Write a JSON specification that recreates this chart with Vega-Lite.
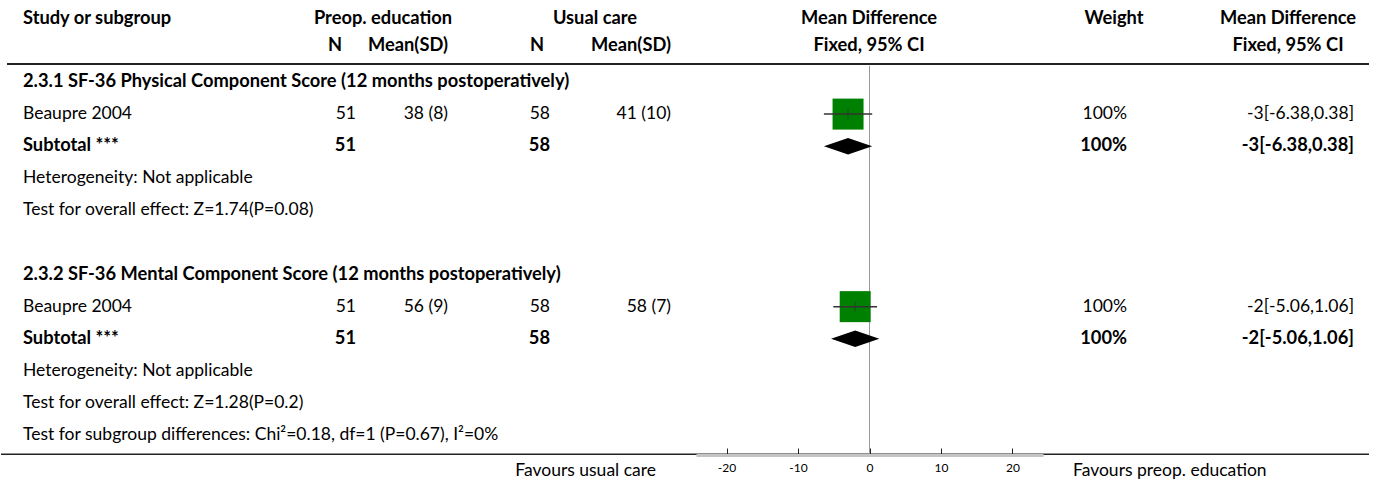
{
  "$schema": "https://vega.github.io/schema/vega-lite/v6.json",
  "width": 1375,
  "height": 455,
  "padding": 0,
  "background": "white",
  "config": {
    "view": {"stroke": null},
    "font": "Lato",
    "text": {"fontSize": 17.5, "baseline": "middle", "color": "#000", "font": "Lato"}
  },
  "datasets": {
    "cells": [
      {"k": -1, "c": 2, "t": "Study or subgroup", "r": "head"},
      {"k": -1, "c": 5, "t": "Preop. education", "r": "head"},
      {"k": -1, "c": 9, "t": "Usual care", "r": "head"},
      {"k": -1, "c": 12, "t": "Mean Difference", "r": "head"},
      {"k": -1, "c": 14, "t": "Weight", "r": "head"},
      {"k": -1, "c": 16, "t": "Mean Difference", "r": "head"},
      {"k": 0, "c": 3, "t": "N", "r": "head"},
      {"k": 0, "c": 6, "t": "Mean(SD)", "r": "head"},
      {"k": 0, "c": 7, "t": "N", "r": "head"},
      {"k": 0, "c": 11, "t": "Mean(SD)", "r": "head"},
      {"k": 0, "c": 12, "t": "Fixed, 95% CI", "r": "head"},
      {"k": 0, "c": 16, "t": "Fixed, 95% CI", "r": "head"},
      {"k": 1, "c": 2, "t": "2.3.1 SF-36 Physical Component Score (12 months postoperatively)", "r": "title"},
      {"k": 2, "c": 2, "t": "Beaupre 2004", "r": "study"},
      {"k": 2, "c": 4, "t": "51", "r": "study"},
      {"k": 2, "c": 6, "t": "38 (8)", "r": "study"},
      {"k": 2, "c": 8, "t": "58", "r": "study"},
      {"k": 2, "c": 11, "t": "41 (10)", "r": "study"},
      {"k": 2, "c": 15, "t": "100%", "r": "study"},
      {"k": 2, "c": 17, "t": "-3[-6.38,0.38]", "r": "study"},
      {"k": 3, "c": 2, "t": "Subtotal ***", "r": "sub"},
      {"k": 3, "c": 4, "t": "51", "r": "sub"},
      {"k": 3, "c": 8, "t": "58", "r": "sub"},
      {"k": 3, "c": 15, "t": "100%", "r": "sub"},
      {"k": 3, "c": 17, "t": "-3[-6.38,0.38]", "r": "sub"},
      {"k": 4, "c": 2, "t": "Heterogeneity: Not applicable", "r": "note"},
      {"k": 5, "c": 2, "t": "Test for overall effect: Z=1.74(P=0.08)", "r": "note"},
      {"k": 7, "c": 2, "t": "2.3.2 SF-36 Mental Component Score (12 months postoperatively)", "r": "title"},
      {"k": 8, "c": 2, "t": "Beaupre 2004", "r": "study"},
      {"k": 8, "c": 4, "t": "51", "r": "study"},
      {"k": 8, "c": 6, "t": "56 (9)", "r": "study"},
      {"k": 8, "c": 8, "t": "58", "r": "study"},
      {"k": 8, "c": 11, "t": "58 (7)", "r": "study"},
      {"k": 8, "c": 15, "t": "100%", "r": "study"},
      {"k": 8, "c": 17, "t": "-2[-5.06,1.06]", "r": "study"},
      {"k": 9, "c": 2, "t": "Subtotal ***", "r": "sub"},
      {"k": 9, "c": 4, "t": "51", "r": "sub"},
      {"k": 9, "c": 8, "t": "58", "r": "sub"},
      {"k": 9, "c": 15, "t": "100%", "r": "sub"},
      {"k": 9, "c": 17, "t": "-2[-5.06,1.06]", "r": "sub"},
      {"k": 10, "c": 2, "t": "Heterogeneity: Not applicable", "r": "note"},
      {"k": 11, "c": 2, "t": "Test for overall effect: Z=1.28(P=0.2)", "r": "note"},
      {"k": 12, "c": 2, "t": "Test for subgroup differences: Chi²=0.18, df=1 (P=0.67), I²=0%", "r": "note"},
      {"k": 13.12, "c": 10, "t": "Favours usual care", "r": "fav"},
      {"k": 13.12, "c": 13, "t": "Favours preop. education", "r": "fav"}
    ],
    "studies": [
      {"k": 2, "md": -3, "lo": -6.38, "hi": 0.38},
      {"k": 8, "md": -2, "lo": -5.06, "hi": 1.06}
    ],
    "totals": [
      {"k": 3, "md": -3, "lo": -6.38, "hi": 0.38},
      {"k": 9, "md": -2, "lo": -5.06, "hi": 1.06}
    ]
  },
  "encoding": {
    "y": {
      "field": "k",
      "type": "quantitative",
      "scale": {"domain": [-1, 0, 1, 12], "range": [19, 46, 82, 435], "zero": false, "nice": false},
      "axis": null
    }
  },
  "layer": [
    {
      "encoding": {
        "x": {
          "field": "c",
          "type": "quantitative",
          "scale": {
            "domain": [0, 1, 2, 3, 4, 5, 6, 7, 8, 9, 10, 11, 12, 13, 14, 15, 16, 17, 18],
            "range": [0, 6, 22, 334, 355, 382, 447, 536, 549, 594, 655, 670, 868, 1072, 1113, 1126, 1287, 1353, 1368],
            "zero": false,
            "nice": false
          },
          "axis": null
        }
      },
      "layer": [
        {
          "data": {"values": [{"k": 0.5, "c": 1, "c2": 18}]},
          "mark": {"type": "rule", "color": "#222", "strokeWidth": 2},
          "encoding": {"x2": {"field": "c2"}}
        },
        {
          "data": {"values": [{"k": 12.6, "c": 0, "c2": 18}]},
          "mark": {"type": "rule", "color": "#222", "strokeWidth": 1.5},
          "encoding": {"x2": {"field": "c2"}}
        },
        {
          "data": {"name": "cells"},
          "encoding": {"text": {"field": "t"}},
          "layer": [
            {
              "transform": [{"filter": "datum.c == 2 && (datum.r == 'head' || datum.r == 'title' || datum.r == 'sub')"}],
              "mark": {"type": "text", "align": "left", "fontWeight": "bold", "fontSize": 18.3}
            },
            {
              "transform": [{"filter": "(datum.c == 2 && (datum.r == 'study' || datum.r == 'note')) || datum.c == 13"}],
              "mark": {"type": "text", "align": "left", "fontWeight": "normal"}
            },
            {
              "transform": [{"filter": "(datum.r == 'study' && datum.c != 2) || datum.c == 10"}],
              "mark": {"type": "text", "align": "right", "fontWeight": "normal"}
            },
            {
              "transform": [{"filter": "(datum.r == 'sub' && datum.c != 2) || (datum.r == 'head' && (datum.c == 6 || datum.c == 11))"}],
              "mark": {"type": "text", "align": "right", "fontWeight": "bold", "fontSize": 18.3}
            },
            {
              "transform": [{"filter": "datum.r == 'head' && datum.c != 2 && datum.c != 6 && datum.c != 11"}],
              "mark": {"type": "text", "align": "center", "fontWeight": "bold", "fontSize": 18.3}
            }
          ]
        }
      ]
    },
    {
      "encoding": {
        "x": {
          "field": "md",
          "type": "quantitative",
          "title": null,
          "scale": {"domain": [-24.27, 24.27], "range": [695, 1042], "zero": false, "nice": false},
          "axis": {
            "values": [-20, -10, 0, 10, 20],
            "labelExpr": "'' + datum.value",
            "title": null,
            "grid": false,
            "domainColor": "#c4c4c4",
            "domainWidth": 3,
            "ticks": true,
            "tickColor": "#222",
            "tickWidth": 1,
            "tickSize": -7,
            "labelFontSize": 12,
            "labelColor": "#000",
            "labelFont": "Lato",
            "labelPadding": 14,
            "zindex": 1
          }
        }
      },
      "layer": [
        {
          "data": {"values": [{"md": 0, "k": 0.55, "k2": 12.6}]},
          "mark": {"type": "rule", "color": "#999", "strokeWidth": 1},
          "encoding": {"y2": {"field": "k2"}}
        },
        {
          "data": {"name": "studies"},
          "mark": {"type": "point", "shape": "square", "filled": true, "size": 961, "color": "#008000", "opacity": 1, "strokeWidth": 0}
        },
        {
          "data": {"name": "studies"},
          "mark": {"type": "rule", "color": "#333", "strokeWidth": 1.5},
          "encoding": {
            "x": {"field": "lo", "type": "quantitative", "title": null},
            "x2": {"field": "hi"}
          }
        },
        {
          "data": {"name": "studies"},
          "mark": {"type": "tick", "orient": "vertical", "size": 10, "thickness": 1, "color": "#333"}
        },
        {
          "data": {"name": "totals"},
          "mark": {"type": "point", "shape": "M-1,0L0,-0.34L1,0L0,0.34Z", "filled": true, "size": 2333, "color": "#000", "opacity": 1, "strokeWidth": 0}
        }
      ]
    }
  ],
  "resolve": {"scale": {"x": "independent"}, "axis": {"x": "independent"}}
}
